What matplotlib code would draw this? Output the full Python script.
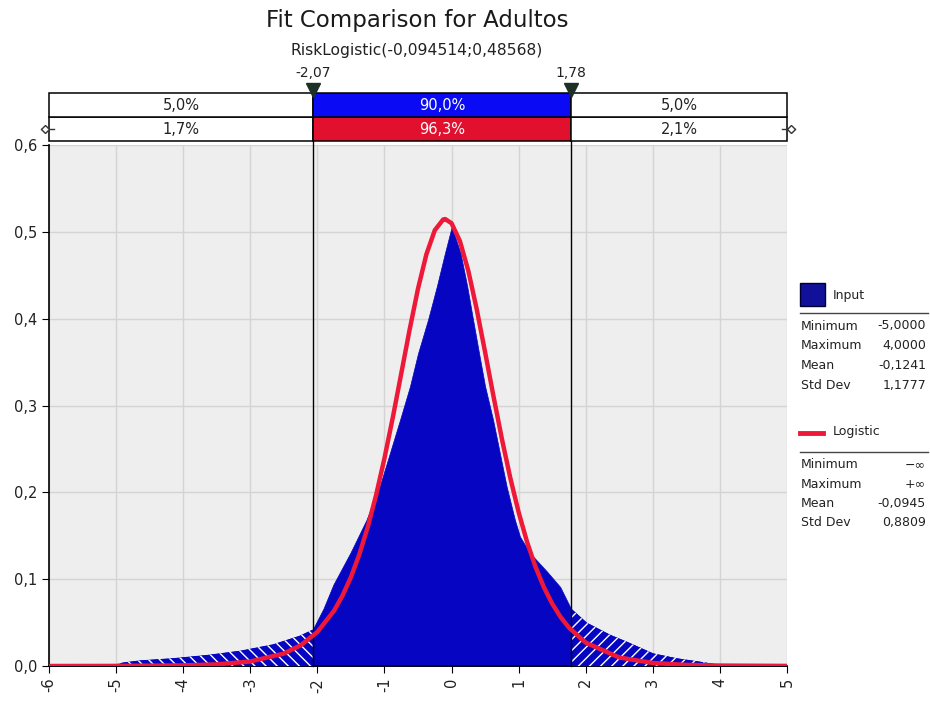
import matplotlib
matplotlib.use("Agg")
import matplotlib.pyplot as plt
from matplotlib.patches import Rectangle
from matplotlib.lines import Line2D
import numpy as np

plt.rcParams['font.family'] = ['DejaVu Sans']

# ---------------- data ----------------
title = "Fit Comparison for Adultos"
subtitle = "RiskLogistic(-0,094514;0,48568)"

# Input density (blue area)
input_x = [-6.0, -5.05, -5.0, -4.9, -4.64, -4.15, -3.65, -3.15, -2.66, -2.26, -2.07,
           -1.91, -1.76, -1.51, -1.27, -1.07, -0.92, -0.77, -0.62, -0.50, -0.35, -0.22,
           -0.10, 0.0, 0.03, 0.135, 0.234, 0.32, 0.41, 0.50, 0.62, 0.72, 0.82, 0.945,
           1.02, 1.17, 1.42, 1.62, 1.78, 2.01, 2.36, 2.61, 3.0, 3.35, 3.70, 3.95, 4.05, 5.0]
input_y = [0.0, 0.0, 0.002, 0.004, 0.0065, 0.009, 0.0127, 0.0176, 0.025, 0.035, 0.042,
           0.066, 0.094, 0.130, 0.168, 0.207, 0.245, 0.283, 0.322, 0.360, 0.399, 0.437,
           0.475, 0.505, 0.500, 0.475, 0.437, 0.399, 0.360, 0.322, 0.283, 0.245, 0.207, 0.168,
           0.149, 0.130, 0.109, 0.091, 0.066, 0.050, 0.036, 0.028, 0.0146, 0.009, 0.005, 0.002, 0.0, 0.0]

# Fitted logistic curve (red line)
fit_x = [-6.0, -5.0, -4.0, -3.5, -3.0, -2.5, -2.25, -2.0, -1.75, -1.625, -1.5, -1.375, -1.25,
         -1.125, -1.0, -0.875, -0.75, -0.625, -0.5, -0.375, -0.25, -0.125, -0.0945, 0.0,
         0.125, 0.25, 0.375, 0.5, 0.625, 0.75, 0.875, 1.0, 1.125, 1.25, 1.375, 1.5, 1.625,
         1.75, 2.0, 2.5, 3.0, 3.5, 4.0, 5.0]
fit_y = [0.0, 0.0001, 0.0007, 0.0019, 0.0052, 0.0143, 0.0238, 0.0392, 0.0638, 0.0811, 0.1023,
         0.1284, 0.1598, 0.1967, 0.2392, 0.2864, 0.3367, 0.3873, 0.4345, 0.4741, 0.5018,
         0.5142, 0.5147, 0.5099, 0.4893, 0.4551, 0.4110, 0.3615, 0.3107, 0.2617, 0.2168,
         0.1771, 0.1430, 0.1144, 0.0909, 0.0718, 0.0564, 0.0442, 0.0269, 0.0098, 0.0035,
         0.0013, 0.0005, 0.0001]

marker_x = [-2.07, 1.78]
marker_labels = ["-2,07", "1,78"]
upper_pcts = ["5,0%", "90,0%", "5,0%"]
lower_pcts = ["1,7%", "96,3%", "2,1%"]

x_ticks = [-6, -5, -4, -3, -2, -1, 0, 1, 2, 3, 4, 5]
y_ticks = [0.0, 0.1, 0.2, 0.3, 0.4, 0.5, 0.6]

stat_names = ["Minimum", "Maximum", "Mean", "Std Dev"]
input_stats = ["-5,0000", "4,0000", "-0,1241", "1,1777"]
logistic_stats = ["\u2212\u221e", "+\u221e", "-0,0945", "0,8809"]
legend_names = ["Input", "Logistic"]

# ---------------- style ----------------
BLUE = '#0505c2'
BAR_BLUE = '#0a0af5'
BAR_RED = '#e0102e'
RED = '#ee1838'
W, H = 930, 702

def fx(px):
    return px / W

def fy(py):
    return 1 - py / H

fig = plt.figure(figsize=(W / 100, H / 100), dpi=100)
fig.patch.set_facecolor('white')

L, R, T, B = 49, 787, 145, 666
ax = fig.add_axes([fx(L), fy(B), (R - L) / W, (B - T) / H])
ax.set_facecolor('#eeeeee')
ax.set_xlim(x_ticks[0], x_ticks[-1])
ax.set_ylim(y_ticks[0], y_ticks[-1])

ax.set_axisbelow(True)
ax.grid(True, color='#d4d4d4', lw=1)

ix = np.array(input_x)
iy = np.array(input_y)
ax.fill_between(ix, iy, 0, facecolor=BLUE, edgecolor=BLUE, lw=0.5, zorder=2)
plt.rcParams['hatch.linewidth'] = 1.0
ax.fill_between(ix, iy, 0, where=ix <= marker_x[0], facecolor=BLUE, edgecolor='white',
                lw=0, hatch='\\\\\\', zorder=3)
ax.fill_between(ix, iy, 0, where=ix >= marker_x[1], facecolor=BLUE, edgecolor='white',
                lw=0, hatch='///', zorder=3)

ax.plot(fit_x, fit_y, color=RED, lw=3.2, zorder=5, solid_joinstyle='round')

# vertical marker lines running up through the bar strip
BT = 93
for mx in marker_x:
    ax.axvline(mx, ymin=0, ymax=(B - BT) / (B - T), color='black', lw=1, zorder=4, clip_on=False)

for s in ['top', 'right']:
    ax.spines[s].set_visible(False)
for s in ['left', 'bottom']:
    ax.spines[s].set_color('black')
    ax.spines[s].set_linewidth(1.2)

ax.set_xticks(x_ticks)
ax.set_xticklabels([str(t) for t in x_ticks], rotation=90, fontsize=10.5)
ax.set_yticks(y_ticks)
ax.set_yticklabels([("%.1f" % t).replace('.', ',') for t in y_ticks], fontsize=10.5)
ax.tick_params(direction='out', length=5, color='black', labelcolor='#222222')

# ---------------- percentage bar strip ----------------
bx = fig.add_axes([fx(L), fy(141), (R - L) / W, (141 - BT) / H])
bx.set_xlim(x_ticks[0], x_ticks[-1])
bx.set_ylim(0, 2)
bx.axis('off')
edges = [x_ticks[0], marker_x[0], marker_x[1], x_ticks[-1]]
for row, (pcts, mid_col) in enumerate([(lower_pcts, BAR_RED), (upper_pcts, BAR_BLUE)]):
    for i in range(3):
        col = mid_col if i == 1 else 'white'
        bx.add_patch(Rectangle((edges[i], row), edges[i + 1] - edges[i], 1,
                               facecolor=col, edgecolor='black', lw=1.1, clip_on=False))
        bx.text((edges[i] + edges[i + 1]) / 2, row + 0.5, pcts[i], ha='center', va='center',
                fontsize=10.5, color='white' if i == 1 else '#222222')

for mx, lab in zip(marker_x, marker_labels):
    bx.plot([mx], [2.12], marker='v', markersize=10, color='#1c3026', clip_on=False, zorder=6)
    bx.text(mx, 2.85, lab, ha='center', va='center', fontsize=10, color='#222222')

# little end arrows on the lower row
bx.plot([-6.12, -5.93], [0.5, 0.5], color='#333333', lw=1, clip_on=False)
bx.plot([-6.06], [0.5], marker='D', markersize=4, mfc='white', mec='#333333', clip_on=False)
bx.plot([4.93, 5.12], [0.5, 0.5], color='#333333', lw=1, clip_on=False)
bx.plot([5.06], [0.5], marker='D', markersize=4, mfc='white', mec='#333333', clip_on=False)

# ---------------- titles ----------------
fig.text(fx(417), fy(21), title, ha='center', va='center', fontsize=16.5, color='#1a1a1a')
fig.text(fx(417), fy(50), subtitle, ha='center', va='center', fontsize=11.2, color='#222222')

# ---------------- legend panel ----------------
fig.patches.append(Rectangle((fx(800), fy(306)), 25 / W, 23 / H, transform=fig.transFigure,
                             facecolor='#10109a', edgecolor='#000030', lw=1))
fig.text(fx(833), fy(295), legend_names[0], ha='left', va='center', fontsize=9, color='#222222')
fig.lines.append(Line2D([fx(800), fx(928)], [fy(313), fy(313)], transform=fig.transFigure,
                        color='#444444', lw=1))
for i, (n, v) in enumerate(zip(stat_names, input_stats)):
    yy = 326 + i * 19.7
    fig.text(fx(801), fy(yy), n, ha='left', va='center', fontsize=9, color='#222222')
    fig.text(fx(926), fy(yy), v, ha='right', va='center', fontsize=9, color='#222222')

fig.lines.append(Line2D([fx(800), fx(823)], [fy(433), fy(433)], transform=fig.transFigure,
                        color=RED, lw=3.5))
fig.text(fx(833), fy(432), legend_names[1], ha='left', va='center', fontsize=9, color='#222222')
fig.lines.append(Line2D([fx(800), fx(928)], [fy(452), fy(452)], transform=fig.transFigure,
                        color='#444444', lw=1))
for i, (n, v) in enumerate(zip(stat_names, logistic_stats)):
    yy = 465 + i * 19.2
    fig.text(fx(801), fy(yy), n, ha='left', va='center', fontsize=9, color='#222222')
    fig.text(fx(926), fy(yy), v, ha='right', va='center', fontsize=9, color='#222222')

fig.savefig('out.png', dpi=100, facecolor='white')
